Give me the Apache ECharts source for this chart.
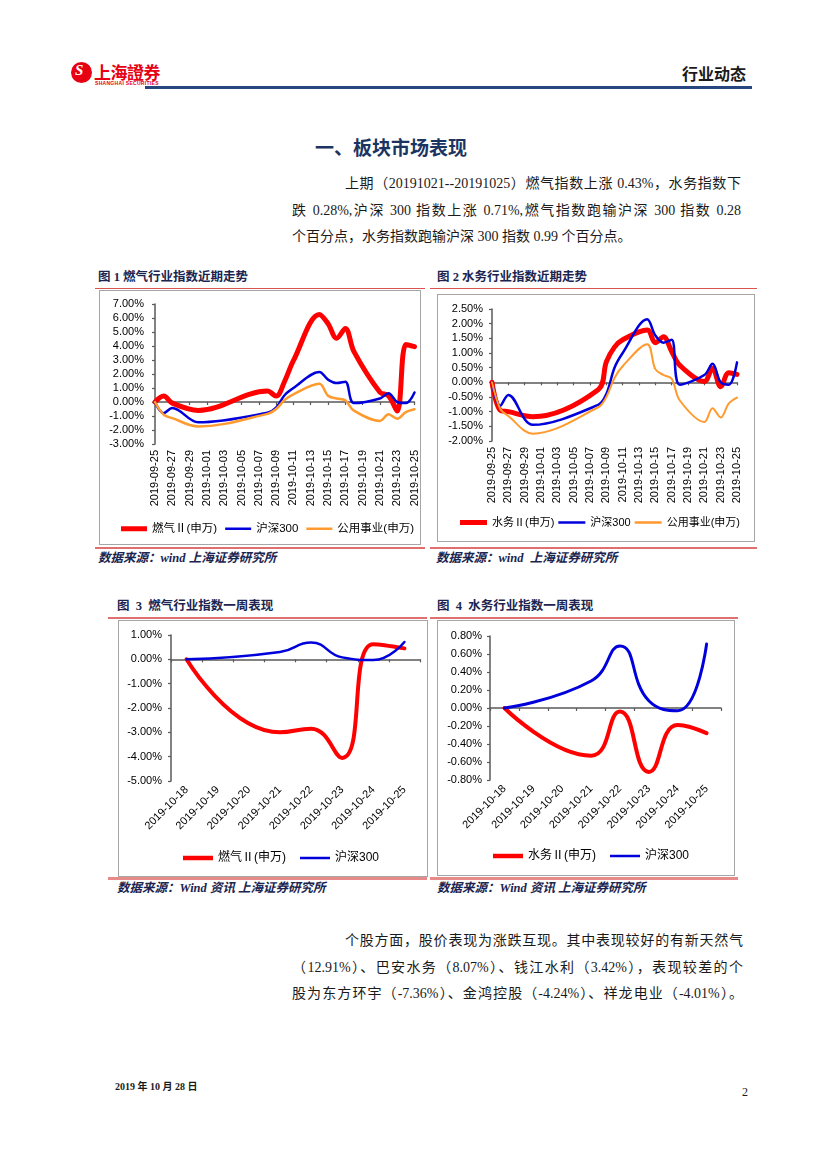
<!DOCTYPE html>
<html><head><meta charset="utf-8">
<script src="https://cdn.jsdelivr.net/npm/echarts/dist/echarts.min.js"></script>
<style>
body{margin:0;background:#fff;}
#page{position:relative;width:827px;height:1169px;overflow:hidden;background:#fff;font-family:'Liberation Serif','Noto Sans CJK SC',serif;}
.abs{position:absolute;white-space:nowrap;}
.para{position:absolute;font-size:14px;line-height:20px;color:#1a1a1a;white-space:nowrap;}
.just{text-align:justify;text-align-last:justify;}
.ftitle{position:absolute;font-weight:bold;font-size:12.5px;line-height:16px;color:#1b2550;white-space:pre;font-family:'Liberation Serif','Noto Sans CJK SC',serif;}
.src{position:absolute;font-weight:bold;font-style:italic;font-size:12.5px;line-height:16px;color:#1b2550;white-space:pre;font-family:'Liberation Serif','Noto Sans CJK SC',serif;}
.rl{position:absolute;background:#d9534f;}
.box{position:absolute;border:1px solid #a6a6a6;box-sizing:border-box;}
</style>
</head><body><div id="page">

<!-- header -->
<div class="abs" style="left:71px;top:62px;width:21px;height:21px;border-radius:50%;background:#e60012;"></div>
<div class="abs" style="left:75px;top:62px;font:italic bold 15px 'Liberation Serif';color:#fff;">S</div>
<div class="abs" style="left:94px;top:59px;font:bold 17px 'Noto Sans CJK SC';color:#e60012;letter-spacing:-0.5px;">上海證券</div>
<div class="abs" style="left:95px;top:80px;font:bold 5px 'Liberation Sans';color:#e60012;letter-spacing:0.3px;">SHANGHAI SECURITIES</div>
<div class="abs" style="left:682px;top:61px;font:bold 16px 'Noto Sans CJK SC';color:#1a1a1a;">行业动态</div>
<div class="abs" style="left:145px;top:86px;width:607px;height:2.5px;background:#27467d;"></div>

<!-- section -->
<div class="abs" style="left:315px;top:133px;font:bold 19px 'Noto Sans CJK SC';color:#1b3461;">一、板块市场表现</div>
<div class="para just" style="left:345px;top:174px;width:396px;">上期（20191021--20191025）燃气指数上涨 0.43%，水务指数下</div>
<div class="para just" style="left:292px;top:201px;width:449px;">跌 0.28%,沪深 300 指数上涨 0.71%,燃气指数跑输沪深 300 指数 0.28</div>
<div class="para" style="left:292px;top:227px;">个百分点，水务指数跑输沪深 300 指数 0.99 个百分点。</div>

<!-- figure 1/2 titles -->
<div class="ftitle" style="left:98px;top:269px;">图 1 燃气行业指数近期走势</div>
<div class="ftitle" style="left:437px;top:269px;">图 2 水务行业指数近期走势</div>
<div class="rl" style="left:95px;top:288px;width:330px;height:1px;"></div>
<div class="rl" style="left:430px;top:288px;width:327px;height:1px;"></div>

<div id="c1" class="box" style="left:99px;top:290px;width:322px;height:255px;"></div>
<div id="c2" class="box" style="left:437px;top:294px;width:318px;height:248px;"></div>

<div class="rl" style="left:95px;top:547px;width:330px;height:1.5px;background:#e07070;"></div>
<div class="rl" style="left:430px;top:547px;width:327px;height:1.5px;background:#e07070;"></div>
<div class="src" style="left:98px;top:550px;">数据来源：wind 上海证券研究所</div>
<div class="src" style="left:436px;top:550px;">数据来源：wind  上海证券研究所</div>

<!-- figure 3/4 -->
<div class="ftitle" style="left:117px;top:598px;">图  3  燃气行业指数一周表现</div>
<div class="ftitle" style="left:437px;top:598px;">图  4  水务行业指数一周表现</div>
<div class="rl" style="left:108px;top:617px;width:319px;height:2px;background:#e07070;"></div>
<div class="rl" style="left:430px;top:617px;width:308px;height:2px;background:#e07070;"></div>

<div id="c3" class="box" style="left:118px;top:620px;width:310px;height:257px;"></div>
<div id="c4" class="box" style="left:437px;top:620px;width:298px;height:256px;"></div>

<div class="rl" style="left:108px;top:877px;width:319px;height:2.5px;background:#e88a8a;"></div>
<div class="rl" style="left:430px;top:877px;width:308px;height:2.5px;background:#e88a8a;"></div>
<div class="src" style="left:117px;top:880px;">数据来源：Wind 资讯 上海证券研究所</div>
<div class="src" style="left:437px;top:880px;">数据来源：Wind 资讯 上海证券研究所</div>

<!-- paragraph 2 -->
<div class="para just" style="left:345px;top:931px;width:398px;">个股方面，股价表现为涨跌互现。其中表现较好的有新天然气</div>
<div class="para just" style="left:292px;top:958px;width:451px;">（12.91%）、巴安水务（8.07%）、钱江水利（3.42%），表现较差的个</div>
<div class="para just" style="left:292px;top:984px;width:451px;">股为东方环宇（-7.36%）、金鸿控股（-4.24%）、祥龙电业（-4.01%）。</div>

<!-- footer -->
<div class="abs" style="left:115px;top:1078px;font:bold 10px 'Liberation Serif','Noto Sans CJK SC';color:#1a1a1a;">2019 年 10 月 28 日</div>
<div class="abs" style="left:742px;top:1085px;font:12px 'Liberation Serif';color:#1a1a1a;">2</div>

</div>
<script>
// ---------- data ----------
const calendarDays = ['2019-09-25','2019-09-26','2019-09-27','2019-09-28','2019-09-29','2019-09-30','2019-10-01','2019-10-02','2019-10-03','2019-10-04','2019-10-05','2019-10-06','2019-10-07','2019-10-08','2019-10-09','2019-10-10','2019-10-11','2019-10-12','2019-10-13','2019-10-14','2019-10-15','2019-10-16','2019-10-17','2019-10-18','2019-10-19','2019-10-20','2019-10-21','2019-10-22','2019-10-23','2019-10-24','2019-10-25'];
const tradeDays = ['2019-09-25','2019-09-26','2019-09-27','2019-09-30','2019-10-08','2019-10-09','2019-10-10','2019-10-11','2019-10-14','2019-10-15','2019-10-16','2019-10-17','2019-10-18','2019-10-21','2019-10-22','2019-10-23','2019-10-24','2019-10-25'];
const gasIndex   = [0, 0.42, -0.08, -0.6, 0.78, 0.42, 1.5, 2.95, 6.25, 5.6, 4.55, 5.25, 3.6, 0.7, 0.45, -0.65, 4.1, 3.95];
const waterIndex = [0, -0.95, -1.0, -1.17, -0.25, 0.7, 1.2, 1.45, 1.78, 1.35, 1.55, 1.05, 0.58, 0.03, 0.48, -0.15, 0.33, 0.27];
const hs300      = [0, -0.8, -0.43, -1.45, -0.77, -0.4, 0.5, 1.0, 2.15, 1.6, 1.35, 1.45, -0.08, 0.25, 0.63, 0.0, -0.08, 0.68];
const utilities  = [0, -0.9, -1.15, -1.75, -0.85, -0.5, 0.15, 0.55, 1.3, 0.45, 0.25, 0.12, -0.62, -1.35, -0.88, -1.2, -0.72, -0.52];

const weekDays = ['2019-10-18','2019-10-19','2019-10-20','2019-10-21','2019-10-22','2019-10-23','2019-10-24','2019-10-25'];
const weekTradeDays = ['2019-10-18','2019-10-21','2019-10-22','2019-10-23','2019-10-24','2019-10-25'];
const gasWeek   = [0, -3.0, -2.85, -4.05, 0.62, 0.45];
const waterWeek = [0, -0.53, -0.04, -0.71, -0.19, -0.28];
const hs300Week = [0, 0.3, 0.69, 0.08, -0.03, 0.71];

const names = {gas:'燃气Ⅱ(申万)', water:'水务Ⅱ(申万)', hs:'沪深300', util:'公用事业(申万)'};
// ---------- styles ----------
const RED = '#ff0000', BLUE = '#0000dd', ORANGE = '#ff9a2e';
const FONT = "'Liberation Sans','Noto Sans CJK SC',sans-serif";
const AX = '#595959';

function pairs(days, vals){ return days.map((d,i)=>[d, vals[i]]); }
function line(name, data, color, width, smooth){
  return {name, type:'line', data, smooth, symbol:'none', showSymbol:false,
    lineStyle:{color, width, cap:'round', join:'round'}, itemStyle:{color}};
}
function bar(w, h){ return 'path://M0,0L' + w + ',0L' + w + ',' + h + 'L0,' + h + 'Z'; }
function pct(v){ return (Math.round(v*100)/100).toFixed(2) + '%'; }

function build(id, o){
  const chart = echarts.init(document.getElementById(id), null, {renderer:'canvas'});
  chart.setOption({
    animation:false,
    textStyle:{fontFamily:FONT},
    grid:o.grid,
    legend:{left:o.legend.left, top:o.legend.top, width:600, itemWidth:o.legend.w, itemHeight:10, itemGap:o.legend.gap,
      symbolKeepAspect:true, padding:0,
      textStyle:{fontSize:o.legend.fs, color:'#000', fontFamily:FONT}, data:o.legend.data},
    xAxis:{type:'category', data:o.cats, boundaryGap:o.bgap,
      axisLine:{lineStyle:{color:AX, width:1.5}},
      axisTick:{show:true, interval:o.tickInt, length:3, alignWithLabel:false, lineStyle:{color:AX, width:1.2}},
      axisLabel:{interval:o.labelInt, rotate:o.rotate, fontSize:11, color:'#000', margin:o.xmargin, fontFamily:FONT},
      splitLine:{show:false}},
    yAxis:{type:'value', min:o.min, max:o.max, interval:o.interval,
      axisLine:{show:true, lineStyle:{color:AX, width:1.5}},
      axisTick:{show:true, length:3, lineStyle:{color:AX, width:1.2}},
      axisLabel:{formatter:pct, fontSize:11, color:'#000', margin:o.ymargin, fontFamily:FONT},
      splitLine:{show:false}},
    series:o.series
  });
}
function lg(name, w, h, color){ return {name, icon:bar(w, h), itemStyle:{color}}; }

build('c1', {
  grid:{left:55, right:3, top:13, bottom:100},
  legend:{left:21, top:232, w:26, gap:8, fs:11.5, data:[lg(names.gas,26,5,RED), lg(names.hs,26,2.5,BLUE), lg(names.util,26,2.5,ORANGE)]},
  cats:calendarDays, bgap:false, tickInt:1, labelInt:1, rotate:90, xmargin:6, ymargin:11,
  min:-3, max:7, interval:1,
  series:[
    line(names.gas, pairs(tradeDays, gasIndex), RED, 5, 0.35),
    line(names.hs, pairs(tradeDays, hs300), BLUE, 2.5, 0.35),
    line(names.util, pairs(tradeDays, utilities), ORANGE, 2.5, 0.35)
  ]
});

build('c2', {
  grid:{left:54, right:17, top:14, bottom:100},
  legend:{left:22, top:222, w:27, gap:4, fs:11, data:[lg(names.water,27,5,RED), lg(names.hs,27,2.5,BLUE), lg(names.util,27,2.5,ORANGE)]},
  cats:calendarDays, bgap:false, tickInt:1, labelInt:1, rotate:90, xmargin:6, ymargin:9,
  min:-2, max:2.5, interval:0.5,
  series:[
    line(names.water, pairs(tradeDays, waterIndex), RED, 5, 0.35),
    line(names.hs, pairs(tradeDays, hs300), BLUE, 2.5, 0.35),
    line(names.util, pairs(tradeDays, utilities), ORANGE, 2, 0.35)
  ]
});

build('c3', {
  grid:{left:52, right:7, top:14, bottom:95},
  legend:{left:64, top:231, w:30, gap:14, fs:12, data:[lg(names.gas,30,4.5,RED), lg(names.hs,30,2.5,BLUE)]},
  cats:weekDays, bgap:true, tickInt:0, labelInt:0, rotate:45, xmargin:7, ymargin:9,
  min:-5, max:1, interval:1,
  series:[
    line(names.gas, pairs(weekTradeDays, gasWeek), RED, 4, 0.5),
    line(names.hs, pairs(weekTradeDays, hs300Week), BLUE, 2.5, 0.5)
  ]
});

build('c4', {
  grid:{left:52, right:13, top:15, bottom:95},
  legend:{left:55, top:229, w:30, gap:14, fs:12, data:[lg(names.water,30,4.5,RED), lg(names.hs,30,2.5,BLUE)]},
  cats:weekDays, bgap:true, tickInt:0, labelInt:0, rotate:45, xmargin:7, ymargin:8,
  min:-0.8, max:0.8, interval:0.2,
  series:[
    line(names.water, pairs(weekTradeDays, waterWeek), RED, 4, 0.5),
    line(names.hs, pairs(weekTradeDays, hs300Week), BLUE, 3, 0.5)
  ]
});
</script>
</body></html>
